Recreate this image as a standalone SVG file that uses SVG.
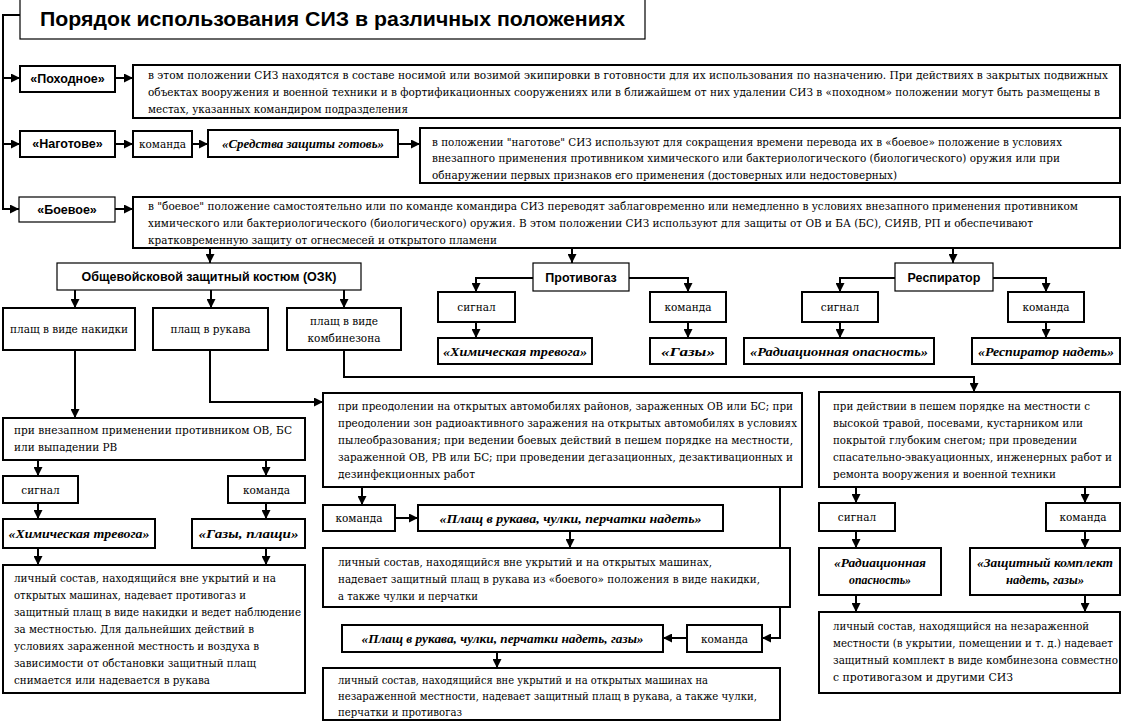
<svg xmlns="http://www.w3.org/2000/svg" width="1125" height="722" viewBox="0 0 1125 722">
<defs>
<style>
.b{fill:#fff;stroke:#000;stroke-width:2}
.b1{fill:#fff;stroke:#000;stroke-width:1.2}
.t{font-family:"DejaVu Serif","Liberation Serif",serif;font-size:10.5px;fill:#000}
.h{font-family:"Liberation Sans",Arial,sans-serif;font-weight:bold;font-size:12.5px;fill:#000}
.ttl{font-family:"Liberation Sans",Arial,sans-serif;font-weight:bold;font-size:20px;fill:#000}
.bi{font-family:"Liberation Serif",serif;font-weight:bold;font-style:italic;font-size:13px;fill:#000}
.c{fill:none;stroke:#000;stroke-width:2;marker-end:url(#a)}
.l{fill:none;stroke:#000;stroke-width:2}
</style>
<marker id="a" viewBox="0 0 10 10" refX="10" refY="5" markerWidth="9" markerHeight="9" markerUnits="userSpaceOnUse" orient="auto"><path d="M0,0 L10,5 L0,10 z" fill="#000"/></marker>
</defs>
<rect width="1125" height="722" fill="#fff"/>

<g id="connectors">
<path class="l" d="M20,15 H3 V210"/>
<path class="c" d="M3,78 H20"/>
<path class="c" d="M3,144 H20"/>
<path class="c" d="M3,209 H19"/>
<path class="c" d="M115,78 H133"/>
<path class="c" d="M115,144 H133"/>
<path class="c" d="M192,144 H208"/>
<path class="c" d="M398,144 H420"/>
<path class="c" d="M115,209 H133"/>
<path class="c" d="M210,248 V263"/>
<path class="c" d="M572,248 V263"/>
<path class="c" d="M953,248 V263"/>
<path class="c" d="M533,278 H476 V292"/>
<path class="c" d="M629,278 H688 V292"/>
<path class="c" d="M476,322 V338"/>
<path class="c" d="M688,322 V338"/>
<path class="c" d="M895,278 H840 V292"/>
<path class="c" d="M993,278 H1046 V292"/>
<path class="c" d="M840,322 V338"/>
<path class="c" d="M1046,322 V338"/>
<path class="c" d="M75,290 V308"/>
<path class="c" d="M211,290 V308"/>
<path class="c" d="M344,290 V308"/>
<path class="c" d="M75,350 V418"/>
<path class="c" d="M210,350 V402 H323"/>
<path class="c" d="M344,350 V377 H974 V392"/>
<path class="c" d="M38,460 V476"/>
<path class="c" d="M266,460 V476"/>
<path class="c" d="M38,503 V519"/>
<path class="c" d="M266,503 V519"/>
<path class="c" d="M38,548 V565"/>
<path class="c" d="M266,548 V565"/>
<path class="c" d="M362,487 V505"/>
<path class="c" d="M395,518 H418"/>
<path class="c" d="M570,531 V548"/>
<path class="c" d="M780,487 V638 H762"/>
<path class="c" d="M687,638 H663"/>
<path class="c" d="M497,652 V668"/>
<path class="c" d="M856,487 V503"/>
<path class="c" d="M1085,487 V503"/>
<path class="c" d="M856,531 V548"/>
<path class="c" d="M1085,531 V548"/>
<path class="c" d="M856,595 V612"/>
<path class="c" d="M1085,595 V612"/>
</g>

<g id="title">
<rect class="b1" x="20" y="-2" width="625" height="41"/>
<text class="ttl" x="40" y="26" textLength="585" lengthAdjust="spacingAndGlyphs">Порядок использования СИЗ в различных положениях</text>
</g>

<g id="pohodnoe">
<rect class="b" x="20" y="66" width="95" height="26"/>
<text class="h" x="67.5" y="83" text-anchor="middle">«Походное»</text>
</g>
<g id="pohodnoe-desc">
<rect class="b" x="133" y="65" width="987" height="53"/>
<text class="t" x="148" y="79" textLength="960" lengthAdjust="spacingAndGlyphs">в этом положении СИЗ находятся в составе носимой или возимой экипировки в готовности для их использования по назначению. При действиях в закрытых подвижных</text>
<text class="t" x="148" y="96" textLength="952" lengthAdjust="spacingAndGlyphs">объектах вооружения и военной техники и в фортификационных сооружениях или в ближайшем от них удалении СИЗ в «походном» положении могут быть размещены в</text>
<text class="t" x="148" y="113" textLength="260" lengthAdjust="spacingAndGlyphs">местах, указанных командиром подразделения</text>
</g>

<g id="nagotove">
<rect class="b" x="20" y="131" width="95" height="26"/>
<text class="h" x="67.5" y="148" text-anchor="middle">«Наготове»</text>
</g>
<g id="nagotove-cmd">
<rect class="b" x="133" y="131" width="59" height="26"/>
<text class="t" x="162.5" y="148" text-anchor="middle">команда</text>
</g>
<g id="nagotove-signal">
<rect class="b" x="208" y="130" width="190" height="27"/>
<text class="bi" x="303" y="148" text-anchor="middle" textLength="162" lengthAdjust="spacingAndGlyphs">«Средства защиты готовь»</text>
</g>
<g id="nagotove-desc">
<rect class="b" x="420" y="128" width="700" height="55"/>
<text class="t" x="432" y="146" textLength="630" lengthAdjust="spacingAndGlyphs">в положении "наготове" СИЗ используют для сокращения времени перевода их в «боевое» положение в условиях</text>
<text class="t" x="432" y="162" textLength="628" lengthAdjust="spacingAndGlyphs">внезапного применения противником химического или бактериологического (биологического) оружия или при</text>
<text class="t" x="432" y="179" textLength="465" lengthAdjust="spacingAndGlyphs">обнаружении первых признаков его применения (достоверных или недостоверных)</text>
</g>

<g id="boevoe">
<rect class="b1" x="19" y="197" width="96" height="25"/>
<text class="h" x="67" y="214" text-anchor="middle">«Боевое»</text>
</g>
<g id="boevoe-desc">
<rect class="b" x="133" y="197" width="987" height="51"/>
<text class="t" x="148" y="210" textLength="930" lengthAdjust="spacingAndGlyphs">в "боевое" положение самостоятельно или по команде командира СИЗ переводят заблаговременно или немедленно в условиях внезапного применения противником</text>
<text class="t" x="148" y="227" textLength="885" lengthAdjust="spacingAndGlyphs">химического или бактериологического (биологического) оружия. В этом положении СИЗ используют для защиты от ОВ и БА (БС), СИЯВ, РП и обеспечивают</text>
<text class="t" x="148" y="244" textLength="349" lengthAdjust="spacingAndGlyphs">кратковременную защиту от огнесмесей и открытого пламени</text>
</g>

<g id="ozk">
<rect class="b1" x="57" y="263" width="304" height="27"/>
<text class="h" x="209" y="281" text-anchor="middle">Общевойсковой защитный костюм (ОЗК)</text>
</g>
<g id="nakidka">
<rect class="b" x="3" y="308" width="132" height="42"/>
<text class="t" x="69" y="333" text-anchor="middle">плащ в виде накидки</text>
</g>
<g id="rukava">
<rect class="b" x="153" y="308" width="115" height="42"/>
<text class="t" x="210.5" y="333" text-anchor="middle">плащ в рукава</text>
</g>
<g id="kombinezon">
<rect class="b" x="287" y="308" width="114" height="42"/>
<text class="t" x="344" y="325" text-anchor="middle">плащ в виде</text>
<text class="t" x="344" y="342" text-anchor="middle">комбинезона</text>
</g>

<g id="protivogaz">
<rect class="b1" x="533" y="263" width="96" height="28"/>
<text class="h" x="581" y="282" text-anchor="middle">Противогаз</text>
</g>
<g id="pg-signal">
<rect class="b" x="438" y="292" width="77" height="30"/>
<text class="t" x="476.5" y="311" text-anchor="middle">сигнал</text>
</g>
<g id="pg-cmd">
<rect class="b" x="650" y="292" width="76" height="30"/>
<text class="t" x="688" y="311" text-anchor="middle">команда</text>
</g>
<g id="pg-him">
<rect class="b" x="438" y="338" width="154" height="26"/>
<text class="bi" x="515" y="356" text-anchor="middle" textLength="144" lengthAdjust="spacingAndGlyphs">«Химическая тревога»</text>
</g>
<g id="pg-gazy">
<rect class="b" x="650" y="338" width="76" height="26"/>
<text class="bi" x="688" y="356" text-anchor="middle" textLength="54" lengthAdjust="spacingAndGlyphs">«Газы»</text>
</g>

<g id="respirator">
<rect class="b1" x="895" y="263" width="98" height="28"/>
<text class="h" x="944" y="282" text-anchor="middle">Респиратор</text>
</g>
<g id="rs-signal">
<rect class="b" x="802" y="292" width="76" height="30"/>
<text class="t" x="840" y="311" text-anchor="middle">сигнал</text>
</g>
<g id="rs-cmd">
<rect class="b" x="1008" y="292" width="76" height="30"/>
<text class="t" x="1046" y="311" text-anchor="middle">команда</text>
</g>
<g id="rs-rad">
<rect class="b" x="744" y="338" width="190" height="26"/>
<text class="bi" x="839" y="356" text-anchor="middle" textLength="178" lengthAdjust="spacingAndGlyphs">«Радиационная опасность»</text>
</g>
<g id="rs-nadet">
<rect class="b" x="972" y="338" width="148" height="26"/>
<text class="bi" x="1046" y="356" text-anchor="middle" textLength="136" lengthAdjust="spacingAndGlyphs">«Респиратор надеть»</text>
</g>

<g id="vnezapno">
<rect class="b" x="3" y="418" width="302" height="42"/>
<text class="t" x="14" y="434" textLength="278" lengthAdjust="spacingAndGlyphs">при внезапном применении противником ОВ, БС</text>
<text class="t" x="14" y="451">или выпадении РВ</text>
</g>
<g id="l-signal">
<rect class="b" x="3" y="476" width="75" height="27"/>
<text class="t" x="40.5" y="494" text-anchor="middle">сигнал</text>
</g>
<g id="l-cmd">
<rect class="b" x="228" y="476" width="77" height="27"/>
<text class="t" x="266.5" y="494" text-anchor="middle">команда</text>
</g>
<g id="l-him">
<rect class="b" x="3" y="519" width="152" height="29"/>
<text class="bi" x="79" y="538" text-anchor="middle" textLength="141" lengthAdjust="spacingAndGlyphs">«Химическая тревога»</text>
</g>
<g id="l-gazy">
<rect class="b" x="192" y="519" width="113" height="29"/>
<text class="bi" x="248.5" y="538" text-anchor="middle" textLength="100" lengthAdjust="spacingAndGlyphs">«Газы, плащи»</text>
</g>
<g id="l-result">
<rect class="b" x="3" y="565" width="302" height="128"/>
<text class="t" x="14" y="582" textLength="262" lengthAdjust="spacingAndGlyphs">личный состав, находящийся вне укрытий и на</text>
<text class="t" x="14" y="599" textLength="232" lengthAdjust="spacingAndGlyphs">открытых машинах, надевает противогаз и</text>
<text class="t" x="14" y="616" textLength="287" lengthAdjust="spacingAndGlyphs">защитный плащ в виде накидки и ведет наблюдение</text>
<text class="t" x="14" y="633" textLength="240" lengthAdjust="spacingAndGlyphs">за местностью. Для дальнейших действий в</text>
<text class="t" x="14" y="650" textLength="245" lengthAdjust="spacingAndGlyphs">условиях зараженной местность и воздуха в</text>
<text class="t" x="14" y="667" textLength="242" lengthAdjust="spacingAndGlyphs">зависимости от обстановки защитный плащ</text>
<text class="t" x="14" y="684" textLength="196" lengthAdjust="spacingAndGlyphs">снимается или надевается в рукава</text>
</g>

<g id="preodolenie">
<rect class="b" x="323" y="393" width="479" height="94"/>
<text class="t" x="338" y="410" textLength="455" lengthAdjust="spacingAndGlyphs">при преодолении на открытых автомобилях районов, зараженных ОВ или БС; при</text>
<text class="t" x="338" y="427" textLength="459" lengthAdjust="spacingAndGlyphs">преодолении зон радиоактивного заражения на открытых автомобилях в условиях</text>
<text class="t" x="338" y="444" textLength="455" lengthAdjust="spacingAndGlyphs">пылеобразования; при ведении боевых действий в пешем порядке на местности,</text>
<text class="t" x="338" y="461" textLength="455" lengthAdjust="spacingAndGlyphs">зараженной ОВ, РВ или БС; при проведении дегазационных, дезактивационных и</text>
<text class="t" x="338" y="478" textLength="137" lengthAdjust="spacingAndGlyphs">дезинфекционных работ</text>
</g>
<g id="m-cmd">
<rect class="b" x="323" y="505" width="72" height="26"/>
<text class="t" x="359" y="522" text-anchor="middle">команда</text>
</g>
<g id="m-plasch">
<rect class="b" x="418" y="505" width="305" height="26"/>
<text class="bi" x="570.5" y="523" text-anchor="middle" textLength="262" lengthAdjust="spacingAndGlyphs">«Плащ в рукава, чулки, перчатки надеть»</text>
</g>
<g id="m-result">
<rect class="b" x="323" y="548" width="467" height="59"/>
<text class="t" x="338" y="566" textLength="374" lengthAdjust="spacingAndGlyphs">личный состав, находящийся вне укрытий и на открытых машинах,</text>
<text class="t" x="338" y="583" textLength="422" lengthAdjust="spacingAndGlyphs">надевает защитный плащ в рукава из «боевого» положения в виде накидки,</text>
<text class="t" x="338" y="600" textLength="140" lengthAdjust="spacingAndGlyphs">а также чулки и перчатки</text>
</g>
<g id="m-cmd2">
<rect class="b" x="687" y="625" width="75" height="27"/>
<text class="t" x="724.5" y="643" text-anchor="middle">команда</text>
</g>
<g id="m-plasch2">
<rect class="b" x="342" y="625" width="321" height="27"/>
<text class="bi" x="502.5" y="643" text-anchor="middle" textLength="282" lengthAdjust="spacingAndGlyphs">«Плащ в рукава, чулки, перчатки надеть, газы»</text>
</g>
<g id="m-result2">
<rect class="b" x="323" y="668" width="457" height="52"/>
<text class="t" x="338" y="684" textLength="370" lengthAdjust="spacingAndGlyphs">личный состав, находящийся вне укрытий и на открытых машинах на</text>
<text class="t" x="338" y="700" textLength="419" lengthAdjust="spacingAndGlyphs">незараженной местности, надевает защитный плащ в рукава, а также чулки,</text>
<text class="t" x="338" y="716" textLength="124" lengthAdjust="spacingAndGlyphs">перчатки и противогаз</text>
</g>

<g id="peshem">
<rect class="b" x="819" y="392" width="301" height="95"/>
<text class="t" x="833" y="410" textLength="257" lengthAdjust="spacingAndGlyphs">при действии в пешем порядке на местности с</text>
<text class="t" x="833" y="427" textLength="250" lengthAdjust="spacingAndGlyphs">высокой травой, посевами, кустарником или</text>
<text class="t" x="833" y="444" textLength="244" lengthAdjust="spacingAndGlyphs">покрытой глубоким снегом; при проведении</text>
<text class="t" x="833" y="461" textLength="279" lengthAdjust="spacingAndGlyphs">спасательно-эвакуационных, инженерных работ и</text>
<text class="t" x="833" y="478" textLength="223" lengthAdjust="spacingAndGlyphs">ремонта вооружения и военной техники</text>
</g>
<g id="r-signal">
<rect class="b" x="819" y="503" width="76" height="28"/>
<text class="t" x="857" y="521" text-anchor="middle">сигнал</text>
</g>
<g id="r-cmd">
<rect class="b" x="1046" y="503" width="74" height="28"/>
<text class="t" x="1083" y="521" text-anchor="middle">команда</text>
</g>
<g id="r-rad">
<rect class="b" x="819" y="548" width="122" height="47"/>
<text class="bi" x="880" y="567" text-anchor="middle" textLength="92" lengthAdjust="spacingAndGlyphs">«Радиационная</text>
<text class="bi" x="880" y="584" text-anchor="middle" textLength="62" lengthAdjust="spacingAndGlyphs">опасность»</text>
</g>
<g id="r-kompl">
<rect class="b" x="970" y="548" width="150" height="47"/>
<text class="bi" x="1045" y="567" text-anchor="middle" textLength="136" lengthAdjust="spacingAndGlyphs">«Защитный комплект</text>
<text class="bi" x="1045" y="584" text-anchor="middle" textLength="78" lengthAdjust="spacingAndGlyphs">надеть, газы»</text>
</g>
<g id="r-result">
<rect class="b" x="819" y="612" width="301" height="81"/>
<text class="t" x="833" y="630" textLength="256" lengthAdjust="spacingAndGlyphs">личный состав, находящийся на незараженной</text>
<text class="t" x="833" y="647" textLength="280" lengthAdjust="spacingAndGlyphs">местности (в укрытии, помещении и т. д.) надевает</text>
<text class="t" x="833" y="664" textLength="285" lengthAdjust="spacingAndGlyphs">защитный комплект в виде комбинезона совместно</text>
<text class="t" x="833" y="681" textLength="180" lengthAdjust="spacingAndGlyphs">с противогазом и другими СИЗ</text>
</g>
</svg>
